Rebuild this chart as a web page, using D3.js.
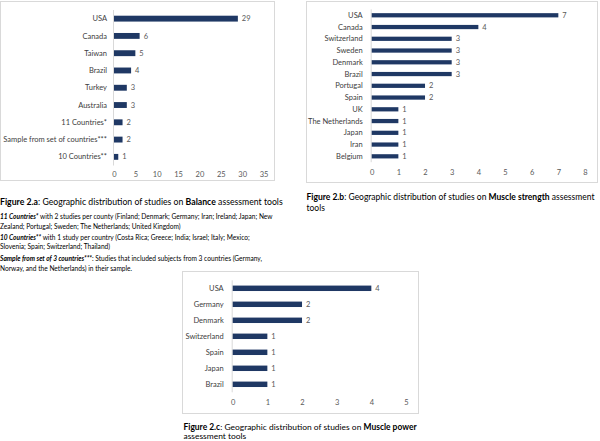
<!DOCTYPE html>
<html><head><meta charset="utf-8">
<script src="https://cdn.jsdelivr.net/npm/d3@7/dist/d3.min.js"></script>
<style>body{margin:0;background:#fff}svg{display:block}</style>
</head><body>
<svg id="chart" width="600" height="441"></svg>
<script>
// ---- Data ----
const balanceCountries = ["USA","Canada","Taiwan","Brazil","Turkey","Australia","11 Countries*","Sample from set of countries***","10 Countries**"];
const balanceValues = [29,6,5,4,3,3,2,2,1];
const balanceTicks = [0,5,10,15,20,25,30,35];

const strengthCountries = ["USA","Canada","Switzerland","Sweden","Denmark","Brazil","Portugal","Spain","UK","The Netherlands","Japan","Iran","Belgium"];
const strengthValues = [7,4,3,3,3,3,2,2,1,1,1,1,1];
const strengthTicks = [0,1,2,3,4,5,6,7,8];

const powerCountries = ["USA","Germany","Denmark","Switzerland","Spain","Japan","Brazil"];
const powerValues = [4,2,2,1,1,1,1];
const powerTicks = [0,1,2,3,4,5];

const FONT = "Lato, 'Open Sans', sans-serif";
const BAR = "#1f3864", GREY = "#595959", BORDER = "#d9d9d9";
const svg = d3.select("#chart");

function panel(o) {
  const g = svg.append("g");
  g.append("rect").attr("x", o.box[0]+0.5).attr("y", o.box[1]+0.5)
    .attr("width", o.box[2]-o.box[0]).attr("height", o.box[3]-o.box[1])
    .attr("fill", "#fff").attr("stroke", BORDER);
  const x = d3.scaleLinear().domain([0, d3.max(o.ticks)]).range(o.xr);
  const y = d3.scaleBand().domain(o.cats).range(o.yr).paddingInner(o.pad).paddingOuter(o.pad/2);
  g.append("line").attr("x1", x(0)-0.5).attr("x2", x(0)-0.5).attr("y1", o.yr[0]).attr("y2", o.yr[1])
    .attr("stroke", BORDER);
  g.selectAll(".bar").data(o.cats).join("rect")
    .attr("x", x(0)).attr("y", d => y(d)).attr("height", y.bandwidth())
    .attr("width", (d,i) => x(o.vals[i]) - x(0)).attr("fill", BAR);
  g.selectAll(".val").data(o.cats).join("text")
    .attr("x", (d,i) => x(o.vals[i]) + 4).attr("y", d => y(d) + y.bandwidth()/2)
    .attr("dy", "0.35em").attr("fill", GREY).attr("font-family", FONT).attr("font-size", o.fs)
    .text((d,i) => o.vals[i]);
  g.selectAll(".cat").data(o.cats).join("text")
    .attr("x", x(0) - o.labGap).attr("y", d => y(d) + y.bandwidth()/2)
    .attr("dy", "0.35em").attr("text-anchor", "end").attr("fill", "#404040")
    .attr("font-family", FONT).attr("font-size", o.fs).text(d => d);
  const ax = g.append("g").attr("transform", `translate(0,${o.tickY})`)
    .call(d3.axisBottom(x).tickValues(o.ticks).tickSize(0).tickPadding(0).tickFormat(d3.format("d")));
  ax.select(".domain").remove();
  ax.selectAll("text").attr("fill", GREY).attr("font-family", FONT).attr("font-size", o.fs).attr("dy", "0.35em");
}

panel({box:[0,1,274,180], cats:balanceCountries, vals:balanceValues, ticks:balanceTicks,
  xr:[114,263.5], yr:[10,165.5], pad:0.66, tickY:174.5, fs:7.5, labGap:7});
panel({box:[306,1,597,182], cats:strengthCountries, vals:strengthValues, ticks:strengthTicks,
  xr:[371.7,585], yr:[9.4,162.2], pad:0.64, tickY:172.5, fs:7.5, labGap:9});
panel({box:[182,271,418,413], cats:powerCountries, vals:powerValues, ticks:powerTicks,
  xr:[232.7,406], yr:[280.3,392.3], pad:0.66, tickY:402.5, fs:7.5, labGap:9});

// ---- Captions and notes (font size fitted to the reference line width) ----
function rich(x, y, parts, fs, target) {
  const t = svg.append("text").attr("x", x).attr("y", y).attr("font-family", FONT)
    .attr("font-size", fs).attr("fill", "#000");
  parts.forEach(p => {
    const s = t.append("tspan").text(p[0]);
    if (p[1] && p[1].includes("b")) s.attr("font-weight", "bold");
    if (p[1] && p[1].includes("i")) s.attr("font-style", "italic");
  });
  let size = fs;
  if (target) {
    const w = t.node().getBBox().width;
    if (w > 0) { size = fs * target / w; t.attr("font-size", size); }
  }
  return size;
}
const capA = rich(0, 205, [["Figure 2.a","b"],[": Geographic distribution of studies on "],["Balance","b"],[" assessment tools"]], 9.5, 283);
const noteFs = rich(0, 218.5, [["11 Countries*","bi"],[" with 2 studies per county (Finland; Denmark; Germany; Iran; Ireland; Japan; New"]], 7, 273);
rich(0, 229, [["Zealand; Portugal; Sweden; The Netherlands; United Kingdom)"]], noteFs);
rich(0, 239.5, [["10 Countries**","bi"],[" with 1 study per country (Costa Rica; Greece; India; Israel; Italy; Mexico;"]], noteFs);
rich(0, 248.5, [["Slovenia; Spain; Switzerland; Thailand)"]], noteFs);
rich(0, 261, [["Sample from set of 3 countries***","bi"],[": Studies that included subjects from 3 countries (Germany,"]], noteFs);
rich(0, 271, [["Norway, and the Netherlands) in their sample."]], noteFs);

const capB = rich(306.5, 200, [["Figure 2.b","b"],[": Geographic distribution of studies on "],["Muscle strength","b"],[" assessment"]], 9.5, 289);
rich(306.5, 210.5, [["tools"]], capB);

const capC = rich(183.5, 430, [["Figure 2.c","b"],[": Geographic distribution of studies on "],["Muscle power","b"]], 9.5, 234);
rich(183.5, 438.5, [["assessment tools"]], capC);
</script>
</body></html>
